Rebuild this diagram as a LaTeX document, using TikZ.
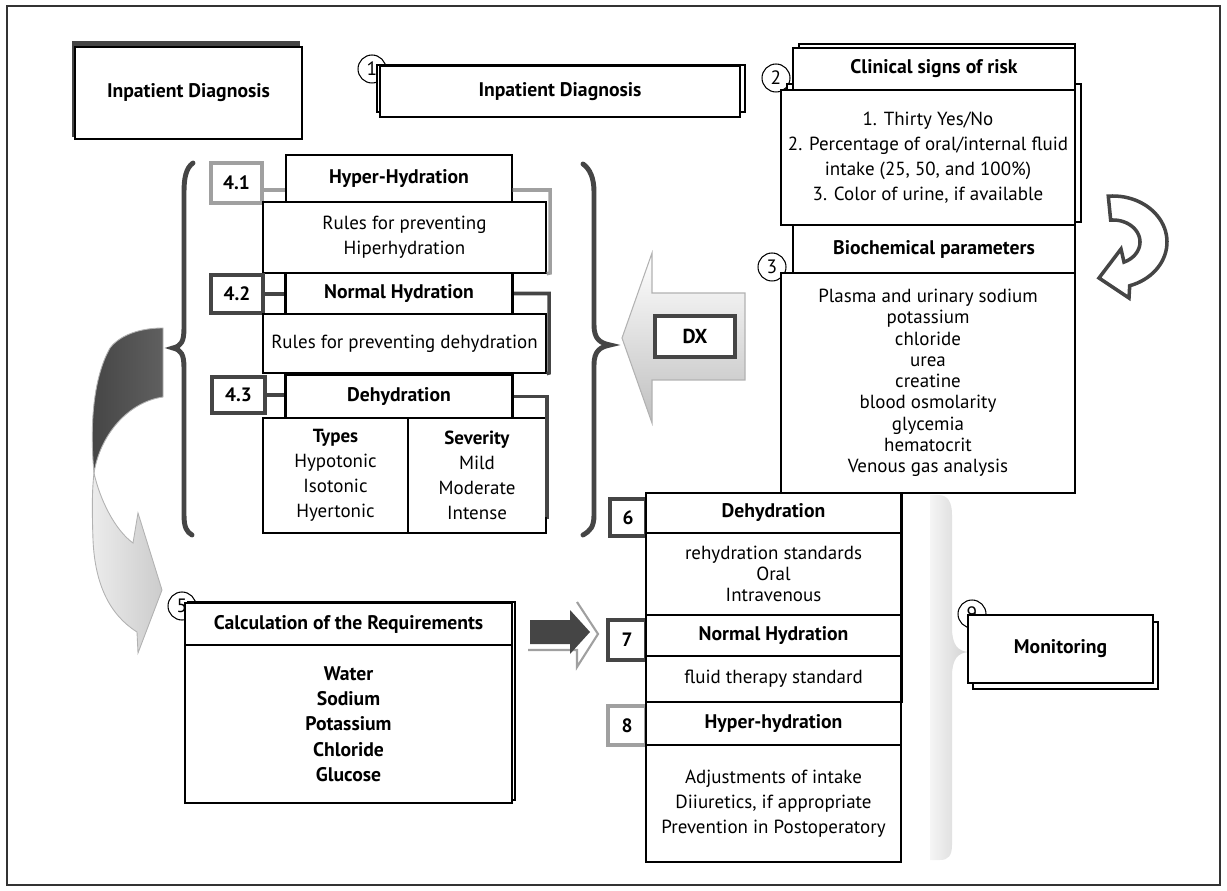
\documentclass[tikz,border=0pt]{standalone}
\usepackage{fontspec}
\setmainfont{PT Sans}
\definecolor{darkline}{HTML}{454545}
\definecolor{lightline}{HTML}{A0A0A0}

\tikzset{
  wh/.style 2 args={minimum width=#1*0.02cm, minimum height=#2*0.02cm},
  box/.style={draw, fill=white, line width=0.8pt, inner sep=0pt, align=center,
    font=\fontsize{10.8}{14.2}\selectfont},
  hdr/.style={box, font=\fontsize{11.2}{14.4}\selectfont\bfseries},
  list/.style={box, font=\fontsize{10.8}{12.1}\selectfont},
  tag/.style={draw=darkline, line width=2pt, fill=white, inner sep=0pt,
    font=\fontsize{11}{12}\selectfont\bfseries},
  taglight/.style={tag, draw=lightline},
  num/.style={circle, draw, fill=white, line width=0.6pt, minimum size=0.56cm,
    inner sep=0pt, font=\fontsize{11}{12}\selectfont},
  back/.style={draw, fill=white, line width=0.8pt, inner sep=0pt},
  elbow/.style={line width=2pt, darkline},
  brace/.style={line width=2.8pt, darkline, line cap=round},
  edge/.style={line width=2pt},
}

\begin{document}
\begin{tikzpicture}[x=0.02cm, y=-0.02cm]
\useasboundingbox (0,0) rectangle (1227,891);
\draw[black!80, line width=0.6pt] (7,6) rectangle (1220,885);

% big curved arrow on the left
\shade[left color=darkline, right color=gray!75!black, draw=gray!60, line width=0.5pt]
  (163,328) -- (163,397) .. controls (128,402) and (100,435) .. (94,473)
  .. controls (90,430) and (92,380) .. (110,348) .. controls (120,335) and (140,328) .. (163,328) -- cycle;
\shade[left color=gray!15, right color=gray!40, draw=gray!60, line width=0.5pt]
  (94,473) .. controls (100,500) and (115,530) .. (133,543) -- (138,513) -- (162,590)
  -- (138,653) -- (137,632) .. controls (110,615) and (95,585) .. (93,540)
  .. controls (92,510) and (92,490) .. (94,473) -- cycle;

% braces
\draw[brace] (193,163) .. controls (186,168) and (184,178) .. (184,192) -- (184,328)
  .. controls (184,342) and (181,346) .. (173,348) .. controls (181,350) and (184,354) .. (184,368)
  -- (184,515) .. controls (184,528) and (187,532) .. (192,535);
\draw[brace] (583,164) .. controls (590,169) and (594,178) .. (594,192) -- (594,325)
  .. controls (594,339) and (600,343) .. (610,345) .. controls (600,347) and (594,351) .. (594,365)
  -- (594,515) .. controls (594,527) and (590,531) .. (583,535);

% DX arrow
\shade[top color=white, bottom color=gray!50, draw=gray!60, line width=0.6pt]
  (622,338) -- (652,253) -- (652,293) -- (745,293) -- (745,380) -- (652,380) -- (652,423) -- cycle;
\node[tag, line width=2.5pt, wh={80}{41}, font=\fontsize{11.5}{12}\selectfont\bfseries] (dx) at (695,336.5) {DX};

% circular arrow
\draw[darkline, line width=2pt, fill=white, line join=miter]
  plot[domain=-95:72, samples=40] ({1113+54*cos(\x)}, {242+46*sin(\x)})
  -- (1129,298) -- (1099,278) -- (1121,249)
  -- plot[domain=66:-95, samples=40] ({1113+27*cos(\x)}, {242+22*sin(\x)})
  -- cycle;

% top left
\fill[darkline] (72,41) rectangle (300,137);
\node[hdr, wh={227}{92}] (inpat) at (188.5,93) {Inpatient Diagnosis};

% 1
\node[num] (n1) at (372,69) {1};
\node[back, wh={368}{47}] (diagback) at (561,88.5) {};
\node[hdr, wh={360}{51}] (diag) at (560,91.5) {Inpatient Diagnosis};

% 2 and 3
\node[num] (n2) at (776,78) {2};
\node[back, wh={276}{42}] (riskback) at (937,65) {};
\node[back, wh={294}{138}] (signsback) at (934,153) {};
\node[hdr, wh={282}{42}] (risk) at (934,69) {Clinical signs of risk};
\node[box, wh={294}{135}] (signs) at (928,157.5) {1. Thirty Yes/No\\2. Percentage of oral/internal fluid\\intake (25, 50, and 100\%)\\3. Color of urine, if available};
\node[num] (n3) at (772,267) {3};
\node[hdr, wh={282}{48}] (bio) at (934,249) {Biochemical parameters};
\node[list, wh={294}{220}] (biolist) at (928,383) {Plasma and urinary sodium\\potassium\\chloride\\urea\\creatine\\blood osmolarity\\glycemia\\hematocrit\\Venous gas analysis};

% 4.1 - 4.3
\node[taglight, wh={51}{40}] (t41) at (236.5,183) {4.1};
\node[hdr, wh={226}{47}] (h41) at (399,178.5) {Hyper-Hydration};
\node[box, wh={283}{71}] (b41) at (404.5,237.5) {Rules for preventing\\Hiperhydration};
\draw[elbow, lightline] (t41.east |- 0,190) -- (h41.west |- 0,190);
\draw[elbow, lightline] (h41.east |- 0,190) -| (550,273) -- (b41.south east);

\node[tag, wh={52}{38}] (t42) at (237,294) {4.2};
\node[hdr, wh={226}{41}] (h42) at (399,293.5) {Normal Hydration};
\node[box, wh={283}{59}] (b42) at (404.5,343.5) {Rules for preventing dehydration};
\draw[elbow] (t42.east) -- (t42.east -| h42.west);
\draw[elbow] (h42.east) -| (549,373) -- (b42.south east);
\draw[edge] (h42.north west) -- (h42.south west) (h42.north east) -- (h42.south east);

\node[tag, wh={53}{36}] (t43) at (238.5,395) {4.3};
\node[hdr, wh={226}{43}] (h43) at (399,396.5) {Dehydration};
\node[box, wh={145}{115}] (types) at (335.5,475.5) {\textbf{Types}\\Hypotonic\\Isotonic\\Hyertonic};
\node[box, wh={138}{115}] (sever) at (477,475.5) {\textbf{Severity}\\Mild\\Moderate\\Intense};
\draw[elbow] (t43.east) -- (t43.east -| h43.west);
\draw[elbow] (h43.east) -| (547,517) -- (sever.east |- 0,517);
\draw[edge] (h43.north west) -- (h43.south west) (h43.north east) -- (h43.south east);

% 5
\node[num] (n5) at (182,606) {5};
\node[back, wh={327}{198}] (calcback) at (351.5,701) {};
\node[hdr, wh={327}{42}] (calc) at (348.5,624) {Calculation of the Requirements};
\node[hdr, wh={327}{158}] (calclist) at (348.5,724) {Water\\Sodium\\Potassium\\Chloride\\Glucose};

% arrow to 7
\draw[lightline, line width=1.2pt] (528,650) -- (577,650) -- (577,667) -- (598,634) -- (577,602);
\fill[darkline] (530,620) -- (570,620) -- (570,610) -- (590,632) -- (570,654) -- (570,644) -- (530,644) -- cycle;

% 6 - 8
\node[tag, wh={36}{37}] (t6) at (628,517.5) {6};
\node[hdr, wh={255}{40}] (h6) at (773.5,513) {Dehydration};
\node[list, wh={255}{82}] (b6) at (773.5,574) {rehydration standards\\Oral\\Intravenous};
\draw[edge] (h6.north east) -- (b6.south east);

\node[tag, wh={38}{40}] (t7) at (627,640) {7};
\node[hdr, wh={255}{41}] (h7) at (773.5,635.5) {Normal Hydration};
\node[box, wh={255}{46}] (b7) at (773.5,679) {fluid therapy standard};
\draw[edge] (h7.north east) -- (b7.south east);

\node[taglight, wh={38}{39}] (t8) at (627,725.5) {8};
\node[hdr, wh={255}{43}] (h8) at (773.5,723.5) {Hyper-hydration};
\node[box, wh={255}{117}] (b8) at (773.5,803.5) {Adjustments of intake\\Diiuretics, if appropriate\\Prevention in Postoperatory};

% 9
\shade[left color=gray!8, right color=gray!35]
  (930,495) -- (938,495) .. controls (948,495) and (952,502) .. (952,515) -- (952,628)
  .. controls (952,645) and (958,651) .. (968,652) .. controls (958,653) and (952,659) .. (952,676)
  -- (952,845) .. controls (952,856) and (948,860) .. (940,860) -- (930,860) -- cycle;
\node[num] (n9) at (972,614) {9};
\node[back, wh={185}{67}] (monback) at (1065.5,655.5) {};
\node[hdr, wh={185}{68}] (mon) at (1060.5,649) {Monitoring};
\end{tikzpicture}
\end{document}
